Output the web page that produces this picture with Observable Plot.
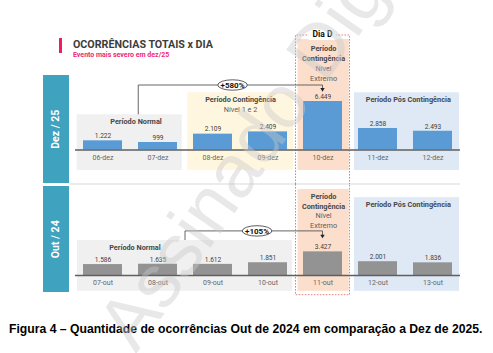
<!DOCTYPE html>
<html><head><meta charset="utf-8">
<script src="https://cdn.jsdelivr.net/npm/d3@7"></script>
<script src="https://cdn.jsdelivr.net/npm/@observablehq/plot@0.6"></script>
<style>
body{margin:0;background:#fff;}
#wrap{position:relative;width:493px;height:353px;overflow:hidden;font-family:Roboto,sans-serif;}
.abs{position:absolute;}
#pinkbar{left:58.5px;top:38px;width:3.5px;height:14.5px;background:#EC1C69;}
#title{left:73px;top:39.2px;font:bold 11.5px/1 Roboto,sans-serif;color:#3c3c3c;white-space:nowrap;transform:scaleX(0.93);transform-origin:0 0;}
#subtitle{left:73px;top:51.6px;font:bold 7px/1 Roboto,sans-serif;color:#EC2A78;white-space:nowrap;}
.teal{left:43.3px;width:26px;background:#3FA2BF;display:flex;align-items:center;justify-content:center;}
.teal span{transform:rotate(-90deg);white-space:nowrap;color:#fff;font:bold 10.5px/1 Roboto,sans-serif;}
#sep{left:70px;top:182.5px;width:390px;height:2px;background:#ececec;}
#caption{left:9px;top:322.5px;font:bold 12.2px/1 "Liberation Sans",Arial,sans-serif;color:#000;white-space:nowrap;}
#top,#bottom{left:0;}
#top{top:28px;} #bottom{top:184px;}
#wm{left:0;top:0;pointer-events:none;}
</style></head>
<body><div id="wrap">
<div id="pinkbar" class="abs"></div>
<div id="title" class="abs"></div>
<div id="subtitle" class="abs"></div>
<div id="sep" class="abs"></div>
<div class="abs teal" style="top:75px;height:107.7px"><span id="lblDez"></span></div>
<div class="abs teal" style="top:186.3px;height:105.5px"><span id="lblOut"></span></div>
<div id="top" class="abs"></div>
<div id="bottom" class="abs"></div>
<div id="caption" class="abs"></div>
<svg id="wm" class="abs" width="493" height="353"></svg>
</div>
<script>
// ---------- data ----------
const titleText = "OCORRÊNCIAS TOTAIS x DIA";
const subtitleText = "Evento mais severo em dez/25";
const captionText = "Figura 4 – Quantidade de ocorrências Out de 2024 em comparação a Dez de 2025.";
const watermarkText = "Assinado Digitalmente";
const panelNames = ["Dez / 25", "Out / 24"];

const daysDez = ["06-dez", "07-dez", "08-dez", "09-dez", "10-dez", "11-dez", "12-dez"];
const valuesDez = [1222, 999, 2109, 2409, 6449, 2858, 2493];
const periodsDez = ["normal", "normal", "cont", "cont", "extremo", "pos", "pos"];

const daysOut = ["07-out", "08-out", "09-out", "10-out", "11-out", "12-out", "13-out"];
const valuesOut = [1586, 1635, 1612, 1851, 3427, 2001, 1836];
const periodsOut = ["normal", "normal", "normal", "normal", "extremo", "pos", "pos"];

const changeLabels = ["+580%", "+105%"];
const diaDLabel = "Dia D";
const labelNormal = ["Período Normal"];
const labelCont = ["Período Contingência", "Nível 1 e 2"];
const labelExtremo = ["Período", "Contingência", "Nível", "Extremo"];
const labelPos = ["Período Pós Contingência"];

// ---------- layout / style ----------
const W = 493, X0 = 75, X1 = 460;
const BW = (X1 - X0) / 7;
const FONT = "Roboto, sans-serif";
const fmt = d3.formatLocale({decimal: ",", thousands: ".", grouping: [3], currency: ["", ""]}).format(",d");
const DASH = {stroke: "#E4807A", dash: "1.6,1.4"};

document.getElementById("title").textContent = titleText;
document.getElementById("subtitle").textContent = subtitleText;
document.getElementById("caption").textContent = captionText;
document.getElementById("lblDez").textContent = panelNames[0];
document.getElementById("lblOut").textContent = panelNames[1];

function labelMark(day, frac, dy, text, opts = {}) {
  return Plot.text([text], {
    x: () => day, y: () => 0, text: d => d,
    dx: (frac - 0.5) * BW, dy,
    fontSize: opts.size ?? 7.3, fontWeight: opts.bold === false ? "normal" : "bold",
    fill: opts.fill ?? (opts.bold === false ? "#5e5e5e" : "#474747")
  });
}

function bracketMark(b) {
  return (index, {x, y}) => {
    const bw = x.bandwidth();
    const xs = x(b.from) + b.fromFrac * bw;
    const xe = x(b.ell) + b.ellFrac * bw;
    const xt = x(b.to) + 0.5 * bw;
    const base = y(0);
    const yl = base + b.lineDy, ys = base + b.startDy, yt = base + b.tipDy;
    const g = d3.create("svg:g");
    g.append("path").attr("d", `M${xs},${ys}V${yl}H${xt}V${yt - 3}`)
      .attr("fill", "none").attr("stroke", "#555").attr("stroke-width", 0.9);
    g.append("path").attr("d", `M${xt - 2.2},${yt - 3.6}L${xt + 2.2},${yt - 3.6}L${xt},${yt}Z`).attr("fill", "#222");
    g.append("ellipse").attr("cx", xe).attr("cy", yl).attr("rx", 14.8).attr("ry", 5.2)
      .attr("fill", "#fff").attr("stroke", "#333").attr("stroke-width", 0.8);
    g.append("text").attr("x", xe).attr("y", yl).attr("dy", "0.35em").attr("text-anchor", "middle")
      .attr("font-size", 8).attr("font-weight", "bold").attr("fill", "#111").attr("font-family", FONT)
      .text(b.label);
    return g.node();
  };
}

function dashMark(day, mode, H, dyEdge) {
  return (index, {x, y}) => {
    const x0 = x(day) + 0.5, x1 = x(day) + x.bandwidth() - 0.5, base = y(0);
    const g = d3.create("svg:g");
    const edge = base + dyEdge;
    const d = mode === "top" ? `M${x0},${H}V${edge}H${x1}V${H}` : `M${x0},0V${edge}H${x1}V0`;
    g.append("path").attr("d", d).attr("fill", "none").attr("stroke", DASH.stroke)
      .attr("stroke-width", 1).attr("stroke-dasharray", DASH.dash);
    if (mode === "top") {
      const cx = (x0 + x1) / 2;
      g.append("rect").attr("x", cx - 14).attr("y", edge - 5).attr("width", 28).attr("height", 10).attr("fill", "#fff");
      g.append("text").attr("x", cx).attr("y", edge - 0.8).attr("dy", "0.35em").attr("text-anchor", "middle")
        .attr("font-size", 8.5).attr("font-weight", "bold").attr("fill", "#111").attr("font-family", FONT)
        .text(diaDLabel);
    }
    return g.node();
  };
}

function makePanel(cfg) {
  const rows = cfg.days.map((day, i) => ({day, value: cfg.values[i], period: cfg.periods[i]}));
  const max = d3.max(cfg.values);
  const marks = [];
  rows.forEach((r, i) => {
    const box = cfg.boxes[r.period];
    const first = i === 0 || rows[i - 1].period !== r.period;
    const last = i === rows.length - 1 || rows[i + 1].period !== r.period;
    marks.push(Plot.barY([r], {
      x: "day", y1: () => 0, y2: () => 0, fill: box.fill,
      insetLeft: first ? box.l : 0, insetRight: last ? box.r : 0,
      insetTop: -box.above, insetBottom: -box.below
    }));
  });
  marks.push(cfg.dash);
  marks.push(Plot.barY(rows, {x: "day", y: "value", fill: cfg.barColor, insetLeft: 8, insetRight: 8}));
  marks.push(Plot.ruleY([0], {stroke: "#5f5f5f", strokeWidth: 1.3}));
  marks.push(Plot.text(rows, {x: "day", y: "value", text: d => fmt(d.value), dy: -4.8, fontSize: 6.6, fill: "#3f3f3f"}));
  marks.push(Plot.text(rows, {x: "day", y: () => 0, text: "day", dy: 7.4, fontSize: 7, fill: "#666"}));
  marks.push(...cfg.labels);
  marks.push(bracketMark(cfg.bracket));
  return Plot.plot({
    width: W, height: cfg.height,
    marginLeft: X0, marginRight: W - X1, marginTop: 0, marginBottom: 0,
    x: {type: "band", domain: cfg.days, padding: 0, axis: null},
    y: {domain: [0, max], range: [cfg.base, cfg.base - max / cfg.k], axis: null},
    style: {fontFamily: FONT, background: "transparent", overflow: "visible"},
    marks
  });
}

const boxFill = {normal: "#F0F0F0", cont: "#FFF6DF", extremo: "#FBDFCC", pos: "#DEE9F5"};

// top panel: svg from page y 28, baseline at page y 149.5
const topH = 156, topBase = 149.5 - 28;
const topPlot = makePanel({
  days: daysDez, values: valuesDez, periods: periodsDez,
  height: topH, base: topBase, k: 133, barColor: "#5B9BD5",
  boxes: {
    normal: {fill: boxFill.normal, l: 1.7, r: 3.3, above: 35.2, below: 20.5},
    cont: {fill: boxFill.cont, l: 2.3, r: 2, above: 57.2, below: 20.5},
    extremo: {fill: boxFill.extremo, l: 2.6, r: 1.2, above: 110.5, below: 20.5},
    pos: {fill: boxFill.pos, l: 4, r: 1, above: 57.2, below: 20.5}
  },
  dash: dashMark("10-dez", "top", topH, -114.5),
  labels: [
    labelMark("06-dez", 1.1, -28.5, labelNormal[0]),
    labelMark("08-dez", 1.0, -50.3, labelCont[0]),
    labelMark("08-dez", 1.0, -40.3, labelCont[1], {bold: false}),
    labelMark("10-dez", 0.51, -101.2, labelExtremo[0]),
    labelMark("10-dez", 0.51, -90.9, labelExtremo[1]),
    labelMark("10-dez", 0.51, -81.2, labelExtremo[2], {bold: false}),
    labelMark("10-dez", 0.51, -71.5, labelExtremo[3], {bold: false}),
    labelMark("11-dez", 1.05, -50.3, labelPos[0])
  ],
  bracket: {from: "07-dez", fromFrac: 0.15, ell: "08-dez", ellFrac: 0.865, to: "10-dez",
            lineDy: -64.5, startDy: -35.2, tipDy: -57.8, label: changeLabels[0]}
});
document.getElementById("top").appendChild(topPlot);

// bottom panel: svg from page y 184, baseline at page y 275
const botH = 116, botBase = 275 - 184;
const botPlot = makePanel({
  days: daysOut, values: valuesOut, periods: periodsOut,
  height: botH, base: botBase, k: 145, barColor: "#939393",
  boxes: {
    normal: {fill: boxFill.normal, l: 2, r: 3, above: 35, below: 15.8},
    extremo: {fill: boxFill.extremo, l: 2.6, r: 1.2, above: 86, below: 15.8},
    pos: {fill: boxFill.pos, l: 4, r: 1, above: 77.8, below: 15.8}
  },
  dash: dashMark("11-out", "bottom", botH, 19.7),
  labels: [
    labelMark("07-out", 1.08, -28.2, labelNormal[0]),
    labelMark("11-out", 0.51, -79.3, labelExtremo[0]),
    labelMark("11-out", 0.51, -69, labelExtremo[1]),
    labelMark("11-out", 0.51, -59.6, labelExtremo[2], {bold: false}),
    labelMark("11-out", 0.51, -49.7, labelExtremo[3], {bold: false}),
    labelMark("12-out", 1.05, -71, labelPos[0])
  ],
  bracket: {from: "09-out", fromFrac: 0, ell: "10-out", ellFrac: 0.31, to: "11-out",
            lineDy: -44.1, startDy: -35, tipDy: -36.7, label: changeLabels[1]}
});
document.getElementById("bottom").appendChild(botPlot);

// faint diagonal watermark
d3.select("#wm").append("text")
  .attr("x", 136).attr("y", 354)
  .attr("transform", "rotate(-55 136 354)")
  .attr("font-family", "'Liberation Sans', Arial, sans-serif").attr("font-size", 75)
  .attr("fill", "#c8c8c8").attr("fill-opacity", 0.42)
  .text(watermarkText);
</script>
</body></html>
